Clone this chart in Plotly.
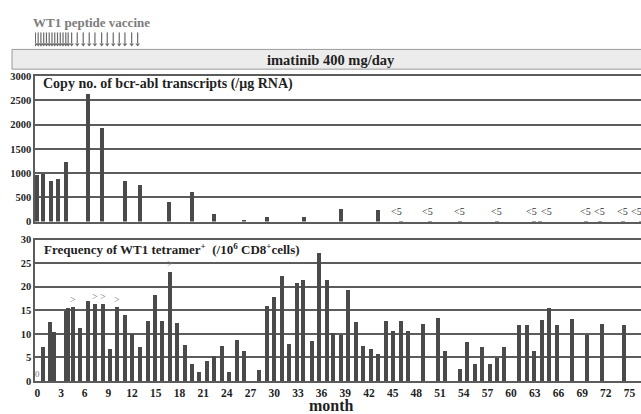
import plotly.graph_objects as go

# ---------------- data ----------------
# top panel: copy number of bcr-abl transcripts (/ug RNA)
bcr_month = [0, 0.75, 1.68, 2.61, 3.58, 6.37, 8.22, 11.09, 12.99, 16.7, 19.58,
             22.4, 26.2, 29.04, 33.76, 38.45, 43.1]
bcr_copies = [960, 980, 840, 880, 1220, 2620, 1920, 840, 750, 410, 610,
              160, 40, 90, 90, 250, 240]
# measurements below detection ("<5")
bcr_low_month = [46.0, 49.7, 53.5, 58.2, 62.9, 63.6, 69.5, 71.2, 74.2, 76.4]
bcr_low_copies = [5, 5, 5, 5, 5, 5, 5, 5, 5, 5]
bcr_low_label = ["<5"] * len(bcr_low_month)

# bottom panel: frequency of WT1 tetramer+ cells (/10^6 CD8+ cells)
wt1_month = [0, 0.67, 1.6, 2.14, 3.58, 3.91, 4.47, 5.4, 6.37, 7.29,
             8.27, 9.19, 10.12, 11.09, 12.02, 12.99, 13.97, 14.89, 15.82, 16.79,
             17.72, 18.69, 19.62, 20.5, 21.44, 22.4, 23.34, 24.3, 25.24, 26.2,
             28.1, 29.04, 29.96, 30.94, 31.9, 32.84, 33.67, 34.74, 35.66, 36.64,
             37.47, 38.41, 39.37, 40.31, 41.27, 42.21, 43.17, 44.11, 45.07, 46.01,
             46.97, 48.79, 50.77, 51.62, 53.52, 54.45, 55.42, 56.35, 57.32, 58.24,
             59.13, 61.03, 61.97, 62.93, 63.87, 64.83, 65.77, 67.67, 69.57, 71.47,
             74.29]
wt1_freq = [0, 7.2, 12.7, 10.4, 14.9, 15.5, 15.8, 11.3, 17.1, 16.4,
            16.4, 6.8, 15.8, 14.1, 10.1, 7.3, 12.9, 18.4, 12.8, 23.3,
            12.4, 7.8, 3.7, 1.9, 4.4, 5.3, 7.5, 2.1, 8.75, 6.5,
            2.5, 16.1, 17.9, 22.4, 8.0, 20.9, 21.6, 8.5, 27.3, 21.6,
            10.3, 9.9, 19.3, 12.7, 7.5, 6.8, 5.8, 12.8, 10.6, 12.9,
            10.8, 12.2, 13.5, 6.5, 2.6, 8.3, 3.7, 7.3, 3.7, 4.9,
            7.2, 12.0, 12.0, 6.5, 13.1, 15.5, 12.0, 13.3, 9.9, 12.2,
            12.0]
# measurements flagged ">" (above the assay range)
wt1_over_month = [4.47, 7.29, 8.27, 10.12, 16.79]

# WT1 peptide vaccinations (months)
vaccine_month = [-0.25, 0.1, 0.45, 0.8, 1.15, 1.5, 1.85, 2.2, 2.55, 2.9, 3.25, 3.6, 3.9,
                 4.34, 5.05, 5.81, 6.57, 7.29, 8.14, 8.85, 9.61, 10.37, 11.09, 11.94, 12.7]

x_ticks = list(range(0, 76, 3))
bcr_ticks = [0, 500, 1000, 1500, 2000, 2500, 3000]
wt1_ticks = [0, 5, 10, 15, 20, 25, 30]

# ---------------- styling ----------------
SERIF = "Liberation Serif"
BAR = "#4a4a4a"
GRID = "#5c5c5c"
TXT = "#1f1f1f"
W, H = 641, 414
ML, MR, MT, MB = 35, 0, 0, 33
PH = H - MT - MB
PW = W - ML - MR
low_label_shift = [-4, -2, 0, 0, -3, 7, -1, 0, -1, -4]


def py(px):
    """pixel row -> paper y"""
    return (H - MB - px) / PH


def pxx(px):
    """pixel column -> paper x"""
    return (px - ML) / PW


fig = go.Figure()
fig.add_trace(go.Bar(x=bcr_month + bcr_low_month, y=bcr_copies + bcr_low_copies,
                     width=0.5, marker=dict(color=BAR, line=dict(width=0)),
                     xaxis="x2", yaxis="y2", showlegend=False, hoverinfo="x+y"))
fig.add_trace(go.Bar(x=wt1_month, y=wt1_freq, width=0.5,
                     marker=dict(color=BAR, line=dict(width=0)),
                     xaxis="x", yaxis="y", showlegend=False, hoverinfo="x+y"))

# vaccination arrows: shafts + heads on a thin strip axis
shaft_x, shaft_y = [], []
for m in vaccine_month:
    shaft_x += [m, m, None]
    shaft_y += [1.0, 0.25, None]
fig.add_trace(go.Scatter(x=shaft_x, y=shaft_y, mode="lines",
                         line=dict(color="#6a6a6a", width=1.2),
                         xaxis="x3", yaxis="y3", showlegend=False, hoverinfo="skip"))
fig.add_trace(go.Scatter(x=vaccine_month, y=[0.16] * len(vaccine_month), mode="markers",
                         marker=dict(symbol="triangle-down", size=4, color="#6a6a6a"),
                         xaxis="x3", yaxis="y3", showlegend=False, hoverinfo="x"))

ann = []
# "<5" labels
for m, t, s in zip(bcr_low_month, bcr_low_label, low_label_shift):
    ann.append(dict(x=m, y=0, xref="x2", yref="y2", text=t, showarrow=False,
                    yanchor="bottom", yshift=3, xshift=s,
                    font=dict(family=SERIF, size=10, color="#333333")))
# ">" labels
for m in wt1_over_month:
    v = wt1_freq[wt1_month.index(m)]
    ann.append(dict(x=m, y=v, xref="x", yref="y", text=">", showarrow=False,
                    yanchor="bottom", yshift=0,
                    font=dict(family=SERIF, size=10, color="#777777")))
# zero marker at month 0
ann.append(dict(x=wt1_month[0], y=wt1_freq[0], xref="x", yref="y", text="0",
                showarrow=False, yanchor="bottom", yshift=0,
                font=dict(family=SERIF, size=9, color="#777777")))
# panel titles
ann.append(dict(x=pxx(41), y=py(80), xref="paper", yref="paper",
                xanchor="left", yanchor="middle", showarrow=False,
                text="Copy no. of bcr-abl transcripts (/μg RNA)",
                font=dict(family=SERIF, size=14, color=TXT, weight="bold")))
ann.append(dict(x=pxx(42), y=py(247), xref="paper", yref="paper",
                xanchor="left", yanchor="middle", showarrow=False,
                text="Frequency of WT1 tetramer<sup>+</sup>  (/10<sup>6</sup> CD8<sup>+</sup>cells)",
                font=dict(family=SERIF, size=13, color=TXT, weight="bold")))
# x-axis title
ann.append(dict(x=pxx(331), y=py(406), xref="paper", yref="paper",
                xanchor="center", yanchor="middle", showarrow=False, text="month",
                font=dict(family=SERIF, size=16, color=TXT, weight="bold")))
# vaccine header
ann.append(dict(x=pxx(31), y=py(18), xref="paper", yref="paper",
                xanchor="left", yanchor="middle", showarrow=False,
                text="WT1 peptide vaccine",
                font=dict(family=SERIF, size=13, color="#7c7c7c", weight="bold")))
# imatinib label
ann.append(dict(x=pxx(331), y=py(56), xref="paper", yref="paper",
                xanchor="center", yanchor="middle", showarrow=False,
                text="imatinib 400 mg/day",
                font=dict(family=SERIF, size=14.5, color=TXT, weight="bold")))

shapes = [dict(type="rect", xref="paper", yref="paper",
               x0=pxx(12), x1=1.05, y0=py(65), y1=py(45),
               fillcolor="#ececec", line=dict(color="#9a9a9a", width=1), layer="below")]

xcommon = dict(range=[-0.3, 76.45], showgrid=False, zeroline=False, ticks="")
ycommon = dict(showgrid=True, gridcolor=GRID, gridwidth=1.5, zeroline=False,
               showline=True, linecolor=GRID, linewidth=1.5, mirror=False, ticks="",
               tickfont=dict(family=SERIF, size=10.5, color=TXT, weight="bold"))

fig.update_layout(
    width=W, height=H,
    margin=dict(l=ML, r=MR, t=MT, b=MB),
    paper_bgcolor="white", plot_bgcolor="white",
    bargap=0, barmode="overlay",
    xaxis=dict(**xcommon, anchor="y", showline=True, linecolor=GRID, linewidth=1.5,
               mirror=True, tickmode="array", tickvals=x_ticks,
               ticktext=[str(t) for t in x_ticks], tickangle=0,
               tickfont=dict(family=SERIF, size=11.5, color=TXT, weight="bold")),
    yaxis=dict(**ycommon, domain=[0, py(237.7)], range=[0, 30], tickvals=wt1_ticks),
    xaxis2=dict(**xcommon, anchor="y2", matches="x", showline=True, linecolor=GRID,
                linewidth=1.5, mirror=True, showticklabels=False),
    yaxis2=dict(**ycommon, domain=[py(219.5), py(72)], range=[0, 3000], tickvals=bcr_ticks),
    xaxis3=dict(**xcommon, anchor="y3", matches="x", showline=False, visible=False),
    yaxis3=dict(domain=[py(42.5), py(27.5)], range=[0, 1], visible=False, fixedrange=True),
    annotations=ann, shapes=shapes,
)

fig.write_html("out.html", config={"displayModeBar": False},
               post_script="document.body.style.margin='0px';")
